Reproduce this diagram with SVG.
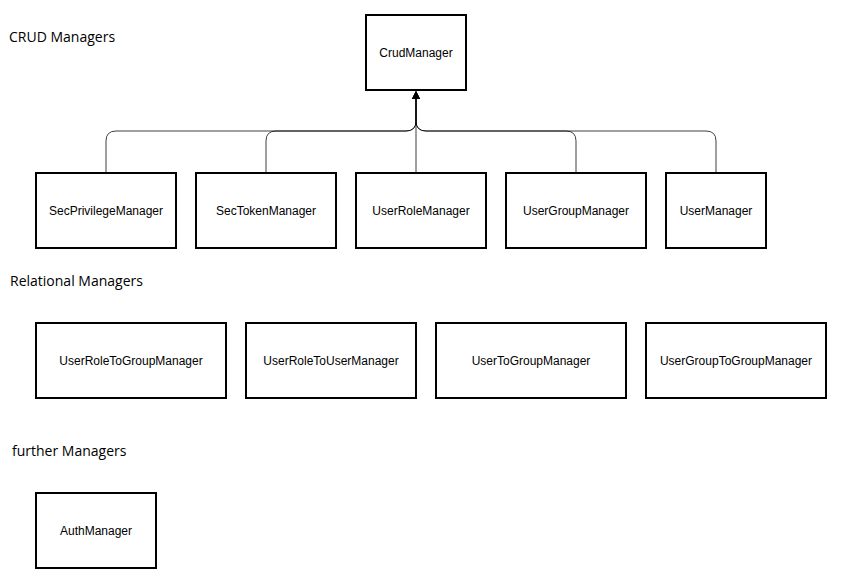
<svg xmlns="http://www.w3.org/2000/svg" width="847" height="580" viewBox="0 0 847 580">
<defs>
<style>
.box{fill:#fff;stroke:#000;stroke-width:2}
.lbl{font-family:"Liberation Sans",Arial,sans-serif;font-size:12px;fill:#000;text-anchor:middle;dominant-baseline:central}
.hdr{font-family:"Open Sans","Noto Sans",sans-serif;font-size:14px;fill:#000}
.edge{fill:none;stroke:#000;stroke-width:1;opacity:0.75}
</style>
<marker id="arr" markerWidth="10" markerHeight="10" refX="7" refY="5" orient="auto" markerUnits="userSpaceOnUse"><path d="M0,1 L8,5 L0,9 Z" fill="#000"/></marker>
</defs>
<rect width="847" height="580" fill="#fff"/>
<text class="hdr" x="9" y="42">CRUD Managers</text>
<text class="hdr" x="10" y="286">Relational Managers</text>
<text class="hdr" x="12" y="456">further Managers</text>
<g id="connectors">
<path class="edge" d="M106,173 V141 Q106,131 116,131 H406 Q416,131 416,121 V92" marker-end="url(#arr)"/>
<path class="edge" d="M266,173 V141 Q266,131 276,131 H406 Q416,131 416,121 V92" marker-end="url(#arr)"/>
<path class="edge" d="M416,173 V92" marker-end="url(#arr)"/>
<path class="edge" d="M576,173 V141 Q576,131 566,131 H426 Q416,131 416,121 V92" marker-end="url(#arr)"/>
<path class="edge" d="M716,173 V141 Q716,131 706,131 H426 Q416,131 416,121 V92" marker-end="url(#arr)"/>
</g>
<g id="CrudManager"><rect class="box" x="366" y="15" width="100" height="75"/><text class="lbl" x="416" y="52.5">CrudManager</text></g>
<g id="SecPrivilegeManager"><rect class="box" x="36" y="173" width="140" height="75"/><text class="lbl" x="106" y="210.5">SecPrivilegeManager</text></g>
<g id="SecTokenManager"><rect class="box" x="196" y="173" width="140" height="75"/><text class="lbl" x="266" y="210.5">SecTokenManager</text></g>
<g id="UserRoleManager"><rect class="box" x="356" y="173" width="130" height="75"/><text class="lbl" x="421" y="210.5">UserRoleManager</text></g>
<g id="UserGroupManager"><rect class="box" x="506" y="173" width="140" height="75"/><text class="lbl" x="576" y="210.5">UserGroupManager</text></g>
<g id="UserManager"><rect class="box" x="666" y="173" width="100" height="75"/><text class="lbl" x="716" y="210.5">UserManager</text></g>
<g id="UserRoleToGroupManager"><rect class="box" x="36" y="323" width="190" height="75"/><text class="lbl" x="131" y="360.5">UserRoleToGroupManager</text></g>
<g id="UserRoleToUserManager"><rect class="box" x="246" y="323" width="170" height="75"/><text class="lbl" x="331" y="360.5">UserRoleToUserManager</text></g>
<g id="UserToGroupManager"><rect class="box" x="436" y="323" width="190" height="75"/><text class="lbl" x="531" y="360.5">UserToGroupManager</text></g>
<g id="UserGroupToGroupManager"><rect class="box" x="646" y="323" width="180" height="75"/><text class="lbl" x="736" y="360.5">UserGroupToGroupManager</text></g>
<g id="AuthManager"><rect class="box" x="36" y="493" width="120" height="75"/><text class="lbl" x="96" y="530.5">AuthManager</text></g>
</svg>
